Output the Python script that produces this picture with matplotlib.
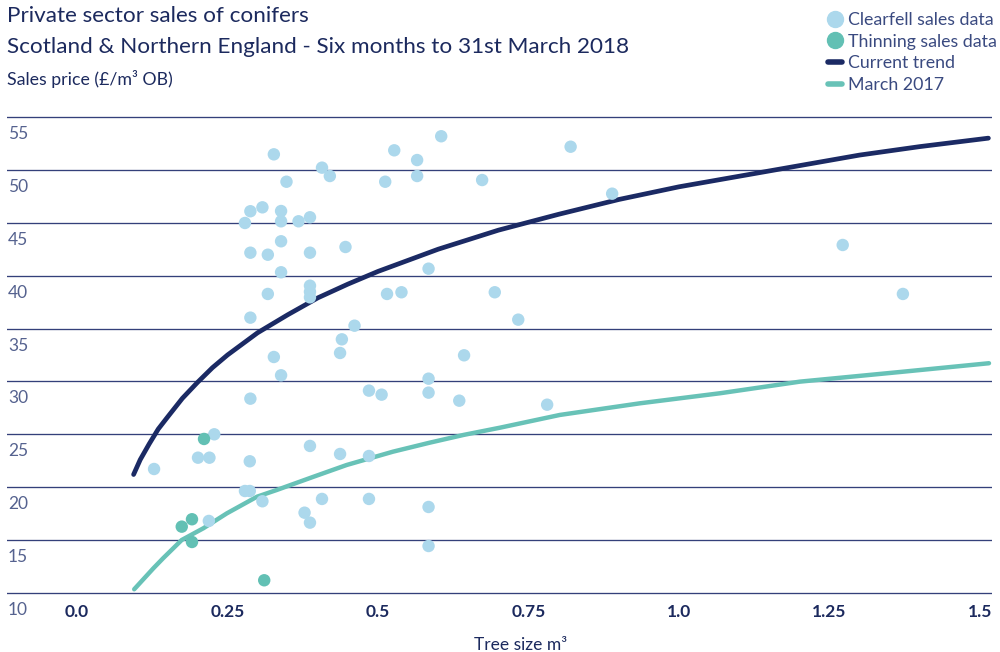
import matplotlib
matplotlib.use("Agg")
import matplotlib.pyplot as plt
from matplotlib.transforms import blended_transform_factory, ScaledTranslation
from matplotlib.lines import Line2D

# ---------------- data ----------------
clear_x = [0.327, 0.527, 0.565, 0.605, 0.407, 0.420, 0.348, 0.512, 0.565, 0.673,
           0.288, 0.308, 0.339, 0.279, 0.339, 0.368, 0.387, 0.339, 0.288, 0.317,
           0.387, 0.446, 0.339, 0.584, 0.387, 0.387, 0.387, 0.317, 0.515, 0.539,
           0.694, 0.288, 0.461, 0.440, 0.437, 0.327, 0.643, 0.339, 0.584, 0.584,
           0.485, 0.506, 0.635, 0.288, 0.820, 0.889, 0.733, 0.781, 1.272, 1.372,
           0.128, 0.228, 0.201, 0.220, 0.287, 0.387, 0.437, 0.485, 0.279, 0.287,
           0.308, 0.378, 0.387, 0.407, 0.485, 0.584, 0.584, 0.219]
clear_y = [51.47, 51.85, 50.93, 53.18, 50.21, 49.42, 48.88, 48.88, 49.42, 49.04,
           46.09, 46.46, 46.11, 44.98, 45.14, 45.14, 45.52, 43.25, 42.17, 41.98,
           42.17, 42.71, 40.32, 40.66, 39.05, 38.48, 37.95, 38.27, 38.27, 38.43,
           38.43, 36.03, 35.27, 33.98, 32.69, 32.31, 32.47, 30.58, 30.26, 28.94,
           29.13, 28.75, 28.18, 28.37, 52.19, 47.75, 35.84, 27.80, 42.90, 38.27,
           21.72, 25.00, 22.79, 22.79, 22.45, 23.90, 23.14, 22.95, 19.64, 19.64,
           18.67, 17.59, 16.65, 18.89, 18.89, 18.13, 14.44, 16.81]

thin_x = [0.211, 0.191, 0.174, 0.191, 0.311]
thin_y = [24.56, 16.97, 16.27, 14.82, 11.20]

trend_x = [0.094, 0.105, 0.12, 0.135, 0.15, 0.175, 0.20, 0.225, 0.25, 0.30, 0.35,
           0.40, 0.45, 0.50, 0.60, 0.70, 0.80, 0.90, 1.00, 1.10, 1.20, 1.30,
           1.40, 1.514]
trend_y = [21.2, 22.6, 24.1, 25.5, 26.6, 28.4, 29.9, 31.3, 32.5, 34.6, 36.3,
           37.9, 39.2, 40.4, 42.5, 44.3, 45.8, 47.2, 48.4, 49.4, 50.4, 51.4,
           52.2, 53.0]

mar17_x = [0.095, 0.127, 0.143, 0.174, 0.210, 0.249, 0.299, 0.332, 0.393, 0.448,
           0.525, 0.586, 0.642, 0.703, 0.802, 0.935, 1.068, 1.201, 1.367, 1.515]
mar17_y = [10.35, 12.34, 13.28, 15.01, 16.12, 17.53, 19.10, 19.74, 20.99, 22.10,
           23.36, 24.21, 24.94, 25.63, 26.83, 27.93, 28.88, 29.98, 30.89, 31.72]

y_ticks = [10, 15, 20, 25, 30, 35, 40, 45, 50, 55]
x_ticks = [0.0, 0.25, 0.5, 0.75, 1.0, 1.25, 1.5]
x_labels = ["0.0", "0.25", "0.5", "0.75", "1.0", "1.25", "1.5"]

series_names = ["Clearfell sales data", "Thinning sales data", "Current trend", "March 2017"]
title1 = "Private sector sales of conifers"
title2 = "Scotland & Northern England - Six months to 31st March 2018"
ylabel = "Sales price (£/m³ OB)"
xlabel = "Tree size m³"

# ---------------- style ----------------
plt.rcParams["font.family"] = ["Lato", "DejaVu Sans"]
NAVY = "#1c2a5e"
TICKC = "#55628f"
GRID = "#34407a"
C_CLEAR = "#acd8ec"
C_THIN = "#62c0b4"
C_TREND = "#1b2a64"
C_MAR = "#68c2b7"

fig = plt.figure(figsize=(10, 6.52), dpi=100)
ax = fig.add_axes([0.007, 0.0873, 0.985, 0.7365])
ax.set_xlim(-0.1163, 1.520)
ax.set_ylim(9.8, 55.2)

for s in ax.spines.values():
    s.set_visible(False)
ax.set_yticks(y_ticks)
ax.yaxis.grid(True, color=GRID, linewidth=0.95)
ax.set_axisbelow(True)
ax.tick_params(axis="y", length=0, labelleft=False)
ax.set_xticks(x_ticks)
ax.set_xticklabels(x_labels)
ax.tick_params(axis="x", length=0, pad=6.5, labelsize=12.5, labelcolor=NAVY)
for lbl in ax.get_xticklabels():
    lbl.set_fontweight("bold")

# y tick labels drawn below each grid line (as in the reference)
trans = blended_transform_factory(ax.transAxes, ax.transData) + \
    ScaledTranslation(1 / 100, -17 / 100, fig.dpi_scale_trans)
for v in y_ticks:
    ax.text(0, v, str(v), transform=trans, ha="left", va="center",
            fontsize=12.5, color=TICKC, clip_on=False)

ax.plot(trend_x, trend_y, color=C_TREND, lw=3.4, solid_capstyle="round",
        solid_joinstyle="round", zorder=3)
ax.plot(mar17_x, mar17_y, color=C_MAR, lw=3.2, solid_capstyle="round",
        solid_joinstyle="round", zorder=3)
ax.scatter(clear_x, clear_y, s=80, color=C_CLEAR, edgecolors="none", zorder=4, clip_on=False)
ax.scatter(thin_x, thin_y, s=80, color=C_THIN, edgecolors="none", zorder=4, clip_on=False)

ax.set_xlabel(xlabel, fontsize=12.5, color=NAVY)
ax.xaxis.set_label_coords(0.521, -0.103)
ax.xaxis.label.set_va("center")

fig.text(0.007, 1 - 22 / 652, title1, fontsize=16.2, color=NAVY, va="baseline", ha="left")
fig.text(0.007, 1 - 53 / 652, title2, fontsize=16.2, color=NAVY, va="baseline", ha="left")
fig.text(0.007, 1 - 85 / 652, ylabel, fontsize=12.8, color=NAVY, va="baseline", ha="left")

handles = [
    Line2D([], [], ls="none", marker="o", markersize=11.5, color=C_CLEAR),
    Line2D([], [], ls="none", marker="o", markersize=11.5, color=C_THIN),
    Line2D([], [], color=C_TREND, lw=4, solid_capstyle="round"),
    Line2D([], [], color=C_MAR, lw=4, solid_capstyle="round"),
]
fig.legend(handles, series_names, loc="upper right", bbox_to_anchor=(1.0, 0.987),
           frameon=False, fontsize=12.8, labelcolor="#3a4a80", handlelength=0.8,
           handletextpad=0.3, labelspacing=0.32, borderpad=0.2, borderaxespad=0.0)

fig.savefig("out.png", dpi=100)
